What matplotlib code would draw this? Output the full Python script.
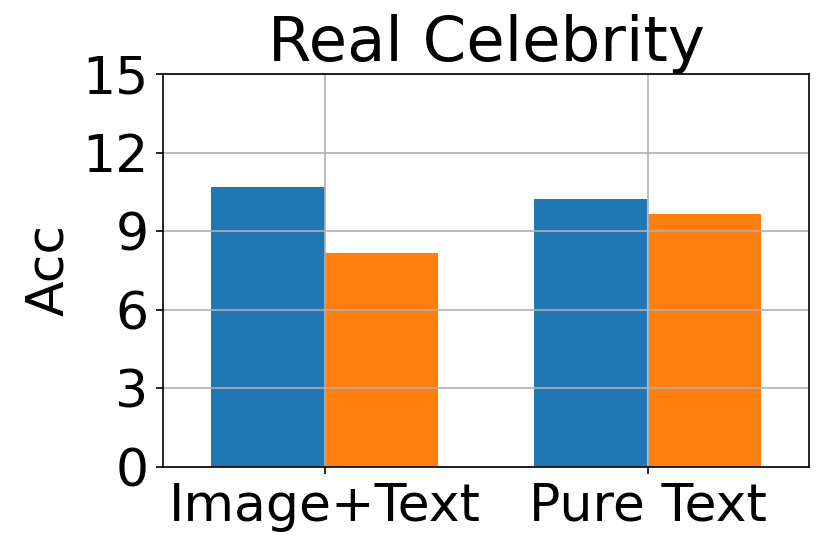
import numpy as np
import matplotlib
matplotlib.use('Agg')
import matplotlib.pyplot as plt

categories = ['Image+Text', 'Pure Text']
series_a = [10.70, 10.23]
series_b = [8.18, 9.64]
yticks = [0, 3, 6, 9, 12, 15]

plt.rcParams['font.size'] = 25

fig = plt.figure(figsize=(830 / 150, 554 / 150), dpi=150)
ax = fig.add_axes([163 / 830, 1 - 467 / 554, (809 - 163) / 830, (467 - 74) / 554])

x = np.arange(len(categories))
width = 0.35
ax.bar(x - width / 2, series_a, width, color='tab:blue')
ax.bar(x + width / 2, series_b, width, color='tab:orange')

ax.set_xticks(x)
ax.set_xticklabels(categories)
ax.set_yticks(yticks)
ax.set_xlim(-0.5, 1.5)
ax.set_ylim(0, 15)
ax.set_ylabel('Acc')
ax.set_title('Real Celebrity')
ax.grid(True)

fig.savefig('out.png', dpi=150)
